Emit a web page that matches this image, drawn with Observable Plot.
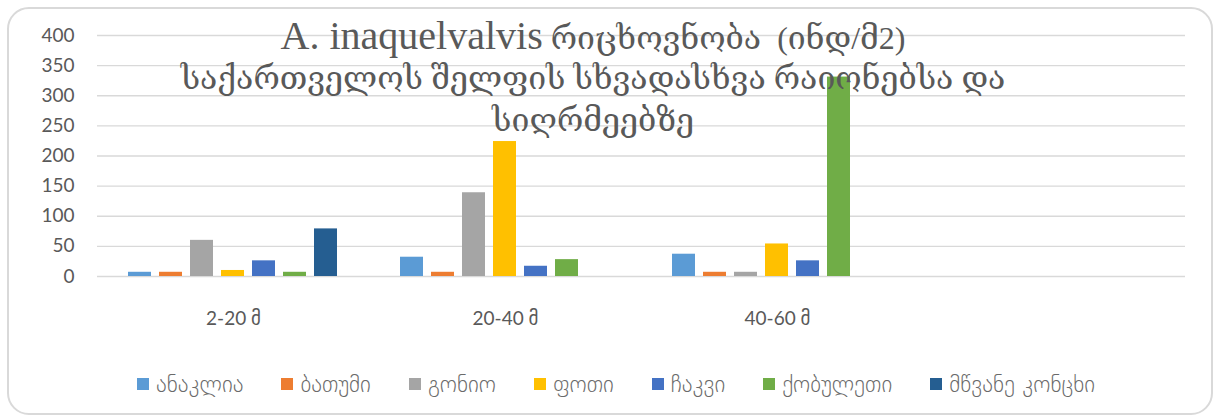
<!DOCTYPE html>
<html>
<head>
<meta charset="utf-8">
<script src="https://cdn.jsdelivr.net/npm/d3@7"></script>
<script src="https://cdn.jsdelivr.net/npm/@observablehq/plot@0.6"></script>
<style>
  html, body { margin: 0; padding: 0; background: #fff; }
  #chart { position: relative; width: 1215px; height: 418px; overflow: hidden; }
  #frame {
    position: absolute; left: 7px; top: 7px; width: 1206px; height: 408px;
    box-sizing: border-box; border: 2px solid #d9d9d9; border-radius: 22px;
  }
  #plot { position: absolute; left: 0; top: 0; }
  #title {
    position: absolute; left: 0; top: 15px; width: 1186px; text-align: center;
    font-family: "Liberation Serif", "DejaVu Serif", serif; font-size: 32px;
    color: #595959; white-space: pre; pointer-events: none;
  }
  #title .line { height: 42px; line-height: 42px; }
  #title .latin { font-size: 40px; }
  #legend {
    position: absolute; left: 0; top: 371px; width: 1232px;
    display: flex; justify-content: center; gap: 38px;
    font-family: "DejaVu Sans", sans-serif; font-size: 23px; font-weight: 300;
    color: #6a6a6a;
  }
  #legend .item { display: flex; align-items: center; gap: 7px; }
  #legend .swatch { width: 12px; height: 12px; display: inline-block; }
</style>
</head>
<body>
<div id="chart">
  <div id="frame"></div>
  <div id="plot"></div>
  <div id="title"><div class="line"><span class="latin">A. inaquelvalvis</span> რიცხოვნობა  (ინდ/მ2)</div><div class="line">საქართველოს შელფის სხვადასხვა რაიონებსა და</div><div class="line">სიღრმეებზე</div></div>
  <div id="legend"></div>
</div>
<script>
// Depth zones (the fourth zone has no samples)
const depths = ["2-20 მ", "20-40 მ", "40-60 მ", ""];

// Coastal districts and their series colours
const regions = ["ანაკლია", "ბათუმი", "გონიო", "ფოთი", "ჩაკვი", "ქობულეთი", "მწვანე კონცხი"];
const colors = ["#5B9BD5", "#ED7D31", "#A5A5A5", "#FFC000", "#4472C4", "#70AD47", "#255E91"];

// Abundance (ind/m²) per depth zone, one array per district; null = no sample
const anaklia         = [7, 32, 37, null];
const batumi          = [7, 7, 7, null];
const gonio           = [60, 139, 7, null];
const poti            = [10, 224, 54, null];
const chakvi          = [26, 17, 26, null];
const kobuleti        = [7, 28, 331, null];
const mtsvaneKontskhi = [79, null, null, null];

const yTicks = [0, 50, 100, 150, 200, 250, 300, 350, 400];

// Full district × depth table, blank cells kept as null
const seriesValues = [anaklia, batumi, gonio, poti, chakvi, kobuleti, mtsvaneKontskhi];
const rows = [];
regions.forEach((region, i) => {
  seriesValues[i].forEach((value, j) => {
    rows.push({depth: depths[j], region, value});
  });
});

const chart = Plot.plot({
  width: 1215,
  height: 340,
  marginTop: 35,
  marginBottom: 64,
  marginLeft: 95,
  marginRight: 29,
  style: {background: "transparent", fontFamily: "Lato, 'DejaVu Sans', sans-serif"},
  fx: {domain: depths, padding: 0, label: null},
  x: {domain: regions, paddingInner: 0.25, paddingOuter: 0.885, axis: null},
  y: {domain: [0, 400], label: null},
  color: {domain: regions, range: colors},
  marks: [
    Plot.ruleY(yTicks, {stroke: "#d9d9d9", strokeWidth: 1.3}),
    Plot.barY(rows, {fx: "depth", x: "region", y: "value", fill: "region"}),
    Plot.axisY(yTicks, {tickSize: 0, tickPadding: 23, fontSize: 19, fill: "#595959", label: null}),
    Plot.axisFx({anchor: "bottom", tickSize: 0, tickPadding: 35, fontSize: 19, fill: "#595959", label: null})
  ]
});
document.getElementById("plot").appendChild(chart);

// Legend row
const legend = d3.select("#legend");
regions.forEach((region, i) => {
  const item = legend.append("div").attr("class", "item");
  item.append("span").attr("class", "swatch").style("background", colors[i]);
  item.append("span").text(region);
});
</script>
</body>
</html>
